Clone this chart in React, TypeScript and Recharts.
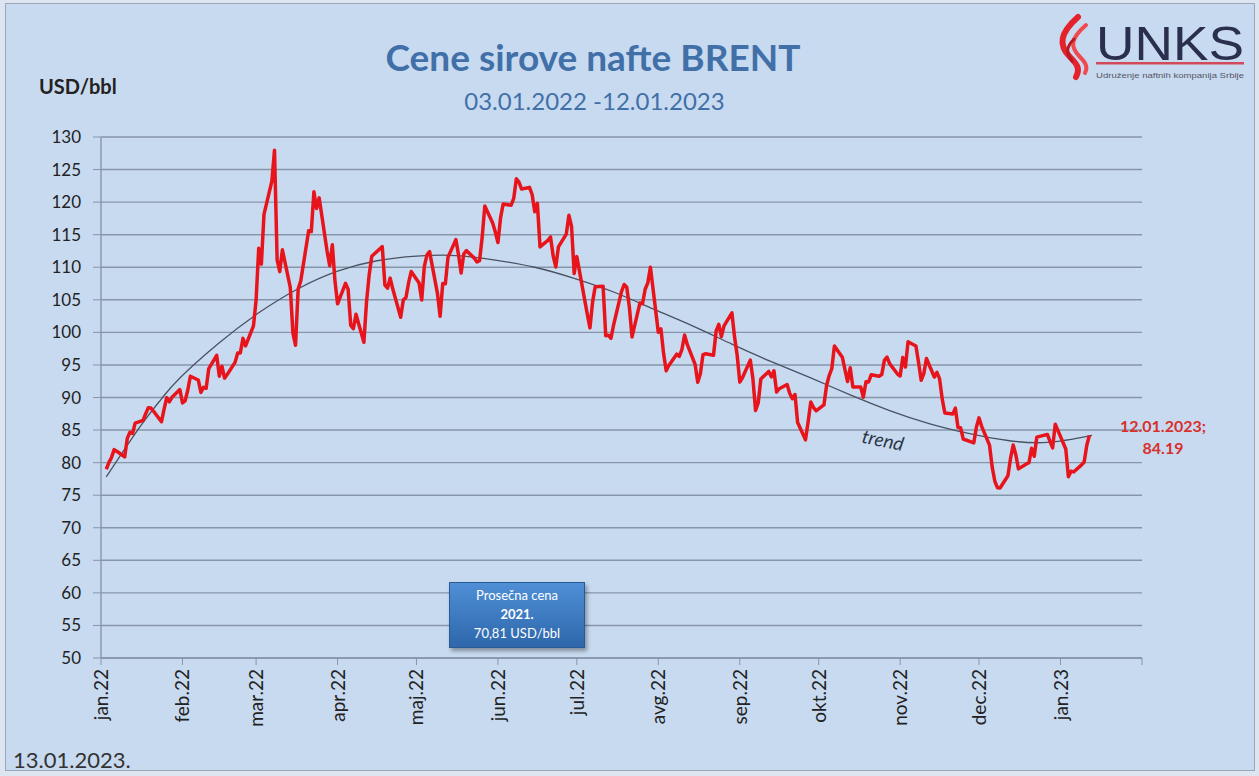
import React from "react"
import { LineChart, Line, XAxis, YAxis, CartesianGrid } from "recharts"

// first day of each month, counted in days from 1 Jan 2022
const MONTH_START = [0, 31, 59, 90, 120, 151, 181, 212, 243, 273, 304, 334, 365, 396]
const MONTH_LABELS = ["jan.22", "feb.22", "mar.22", "apr.22", "maj.22", "jun.22", "jul.22", "avg.22", "sep.22", "okt.22", "nov.22", "dec.22", "jan.23", ""]
const Y_TICKS = [50, 55, 60, 65, 70, 75, 80, 85, 90, 95, 100, 105, 110, 115, 120, 125, 130]

// [day of month, USD/bbl]
const JAN22 = [[3, 78.98], [4, 80.0], [5, 80.8], [6, 81.99], [7, 81.75], [10, 80.87], [11, 83.72], [12, 84.67], [13, 84.47], [14, 86.06], [17, 86.48], [18, 87.51], [19, 88.44], [20, 88.38], [21, 87.89], [24, 86.27], [25, 88.2], [26, 89.96], [27, 89.34], [28, 90.03], [31, 91.21]]
const FEB22 = [[1, 89.16], [2, 89.47], [3, 91.11], [4, 93.27], [7, 92.69], [8, 90.78], [9, 91.55], [10, 91.41], [11, 94.44], [14, 96.48], [15, 93.28], [16, 94.81], [17, 92.97], [18, 93.54], [21, 95.39], [22, 96.84], [23, 96.84], [24, 99.08], [25, 97.93], [28, 100.99]]
const MAR22 = [[1, 104.97], [2, 112.93], [3, 110.46], [4, 118.11], [7, 123.21], [8, 127.98], [9, 111.14], [10, 109.33], [11, 112.67], [14, 106.9], [15, 99.91], [16, 98.02], [17, 106.64], [18, 107.93], [21, 115.62], [22, 115.48], [23, 121.6], [24, 119.03], [25, 120.65], [28, 112.48], [29, 110.23], [30, 113.45], [31, 107.91]]
const APR22 = [[1, 104.39], [4, 107.53], [5, 106.64], [6, 101.07], [7, 100.58], [8, 102.78], [11, 98.48], [12, 104.64], [13, 108.78], [14, 111.7], [18, 113.16], [19, 107.25], [20, 106.8], [21, 108.33], [22, 106.65], [25, 102.32], [26, 104.99], [27, 105.32], [28, 107.59], [29, 109.34]]
const MAY22 = [[2, 107.58], [3, 104.97], [4, 110.14], [5, 111.9], [6, 112.39], [9, 105.94], [10, 102.46], [11, 107.51], [12, 107.45], [13, 111.55], [16, 114.24], [17, 111.93], [18, 109.11], [19, 112.04], [20, 112.55], [23, 111.4], [24, 110.8], [25, 111.0], [26, 114.6], [27, 119.4], [30, 116.8], [31, 115.4]]
const JUN22 = [[1, 113.8], [2, 117.61], [3, 119.72], [6, 119.51], [7, 120.57], [8, 123.58], [9, 123.07], [10, 122.01], [13, 122.27], [14, 121.17], [15, 118.51], [16, 119.81], [17, 113.12], [20, 114.13], [21, 114.65], [22, 111.74], [23, 110.05], [24, 113.12], [27, 115.09], [28, 117.98], [29, 116.26], [30, 109.03]]
const JUL22 = [[1, 111.63], [5, 102.77], [6, 100.69], [7, 104.65], [8, 107.02], [11, 107.1], [12, 99.49], [13, 99.57], [14, 99.1], [15, 101.16], [18, 106.27], [19, 107.35], [20, 106.92], [21, 103.86], [22, 99.3], [25, 104.5], [26, 104.4], [27, 106.62], [28, 107.6], [29, 110.01]]
const AUG22 = [[1, 100.03], [2, 100.54], [3, 96.78], [4, 94.12], [5, 94.92], [8, 96.65], [9, 96.31], [10, 97.4], [11, 99.6], [12, 98.15], [15, 95.1], [16, 92.34], [17, 93.65], [18, 96.59], [19, 96.72], [22, 96.48], [23, 100.22], [24, 101.22], [25, 99.34], [26, 100.99], [29, 103.0], [30, 99.31], [31, 96.49]]
const SEP22 = [[1, 92.36], [2, 93.02], [5, 95.74], [6, 92.83], [7, 88.0], [8, 89.15], [9, 92.84], [12, 94.0], [13, 93.17], [14, 94.1], [15, 90.84], [16, 91.35], [19, 92.0], [20, 90.62], [21, 89.83], [22, 90.46], [23, 86.15], [26, 83.5], [27, 86.27], [28, 89.32], [29, 88.49], [30, 87.96]]
const OCT22 = [[3, 88.86], [4, 91.8], [5, 93.37], [6, 94.42], [7, 97.92], [10, 96.19], [11, 94.29], [12, 92.45], [13, 94.57], [14, 91.63], [17, 91.62], [18, 90.03], [19, 92.41], [20, 92.38], [21, 93.5], [24, 93.26], [25, 93.52], [26, 95.69], [27, 96.2], [28, 95.2], [31, 93.6]]
const NOV22 = [[1, 93.3], [2, 96.16], [3, 94.67], [4, 98.57], [7, 97.92], [8, 95.36], [9, 92.65], [10, 93.67], [11, 95.99], [14, 93.14], [15, 93.86], [16, 92.86], [17, 89.78], [18, 87.62], [21, 87.45], [22, 88.36], [23, 85.41], [24, 85.34], [25, 83.63], [28, 83.19], [29, 83.03], [30, 85.43]]
const DEC22 = [[1, 86.88], [2, 85.57], [5, 82.68], [6, 79.35], [7, 77.17], [8, 76.15], [9, 76.1], [12, 77.99], [13, 80.68], [14, 82.7], [15, 81.21], [16, 79.04], [19, 79.8], [20, 79.99], [21, 82.2], [22, 80.98], [23, 83.92], [27, 84.33], [28, 83.26], [29, 82.26], [30, 85.91]]
const JAN23 = [[3, 82.1], [4, 77.84], [5, 78.69], [6, 78.57], [9, 79.65], [10, 80.1], [11, 82.67], [12, 84.19]]

const MONTHS = [JAN22, FEB22, MAR22, APR22, MAY22, JUN22, JUL22, AUG22, SEP22, OCT22, NOV22, DEC22, JAN23]

// polynomial trend
const TREND_DAYS = [2, 15, 23, 30, 45, 60, 75, 90, 105, 120, 135, 150, 165, 180, 195, 210, 225, 240, 255, 270, 285, 300, 315, 330, 345, 360, 377]
const TREND_VALUES = [77.8, 85.6, 89.8, 93.0, 98.4, 103.0, 106.7, 109.4, 111.0, 111.7, 111.8, 111.1, 110.0, 108.3, 106.2, 103.6, 101.0, 98.2, 95.5, 93.0, 90.4, 88.0, 86.0, 84.5, 83.4, 83.1, 84.2]

const brent = MONTHS.flatMap((m, i) => m.map(([d, v]) => ({ day: MONTH_START[i] + d - 1, price: v })))
const trend = TREND_DAYS.map((d, i) => ({ day: d, value: TREND_VALUES[i] }))

const FONT = "Lato, 'Open Sans', sans-serif"
const GRID = "#8795a9"

const MonthTick = ({ x, y, payload }: any) => {
  const i = MONTH_START.indexOf(payload.value)
  const label = i >= 0 ? MONTH_LABELS[i] : ""
  return (
    <text transform={`translate(${x + 7},${y + 2}) rotate(-90)`} textAnchor="end" fontSize={19} fill="#222" fontFamily={FONT}>
      {label}
    </text>
  )
}

export default function App() {
  return (
    <div style={{ position: "absolute", left: 0, top: 0, width: 1259, height: 776, background: "#dce5f0", fontFamily: FONT }}>
      <div style={{ position: "absolute", left: 5, top: 3, width: 1250, height: 768, background: "#c8daf0", border: "1px solid #9aa7b8", boxSizing: "border-box" }} />

      <LineChart width={1259} height={776} data={brent} margin={{ top: 137, right: 117, bottom: 58, left: 41 }} style={{ position: "absolute", left: 0, top: 0 }}>
        <CartesianGrid vertical={false} stroke={GRID} strokeWidth={1.4} />
        <XAxis
          dataKey="day" type="number" domain={[0, 396]} ticks={MONTH_START} interval={0}
          height={60} tick={<MonthTick />} tickSize={7} tickLine={{ stroke: GRID }} axisLine={{ stroke: GRID, strokeWidth: 1.4 }}
        />
        <YAxis
          domain={[50, 130]} ticks={Y_TICKS} interval={0} width={60} tickSize={8} tickMargin={12}
          tick={{ fill: "#222", fontSize: 17, fontFamily: FONT }} tickLine={{ stroke: GRID }} axisLine={{ stroke: GRID, strokeWidth: 1.4 }}
        />
        <Line data={trend} dataKey="value" type="natural" stroke="#4a5262" strokeWidth={1.3} dot={false} isAnimationActive={false} />
        <Line dataKey="price" type="linear" stroke="#e8141c" strokeWidth={3.5} dot={false} strokeLinejoin="round" isAnimationActive={false} />
      </LineChart>

      <div style={{ position: "absolute", left: 0, width: 1186, top: 34, textAlign: "center", fontSize: 37, fontWeight: 700, color: "#4170a8" }}>Cene sirove nafte BRENT</div>
      <div style={{ position: "absolute", left: 0, width: 1189, top: 86, textAlign: "center", fontSize: 24, color: "#4170a8" }}>03.01.2022 -12.01.2023</div>
      <div style={{ position: "absolute", left: 39, top: 74, fontSize: 20, fontWeight: 700, color: "#222" }}>USD/bbl</div>
      <div style={{ position: "absolute", left: 13, top: 746, fontSize: 22, color: "#333" }}>13.01.2023.</div>

      <div style={{ position: "absolute", left: 862, top: 428, fontSize: 19, fontStyle: "italic", color: "#2b3547", transform: "rotate(12deg)" }}>trend</div>

      <div style={{ position: "absolute", left: 1110, width: 106, top: 415, textAlign: "center", fontSize: 16, fontWeight: 700, color: "#d9302c", lineHeight: "22px" }}>
        12.01.2023;<br />84.19
      </div>

      <div style={{
        position: "absolute", left: 449, top: 582, width: 136, height: 66, boxSizing: "border-box",
        background: "linear-gradient(#4f8fd6, #2e67ab)", border: "1px solid #2a5a95", boxShadow: "2px 3px 4px rgba(0,0,0,0.35)",
        color: "#fff", textAlign: "center", fontSize: 13, lineHeight: "19px", paddingTop: 3
      }}>
        Prosečna cena<br /><b>2021.</b><br />70,81 USD/bbl
      </div>

      <svg width={200} height={90} style={{ position: "absolute", left: 1050, top: 0 }}>
        <path d="M28 17 C10 33 8 45 20 57 C28 65 30 69 26 77" stroke="#e3222c" strokeWidth={6} fill="none" strokeLinecap="round" />
        <path d="M36 25 C20 39 20 47 30 57 C36 63 38 67 35 73" stroke="#f04a50" strokeWidth={4} fill="none" strokeLinecap="round" />
        <path d="M24 39 C16 47 16 53 22 61" stroke="#b81820" strokeWidth={3} fill="none" strokeLinecap="round" />
        <text x={46} y={60} fontSize={48} fill="#2b2f4e" fontFamily="'Liberation Sans', Arial, sans-serif" textLength={148} lengthAdjust="spacingAndGlyphs">UNKS</text>
        <rect x={46} y={62} width={148} height={2.5} fill="#d24a5a" />
        <text x={46} y={78} fontSize={7} fill="#556" fontFamily="'Liberation Sans', Arial, sans-serif" textLength={148} lengthAdjust="spacingAndGlyphs">Udruženje naftnih kompanija Srbije</text>
      </svg>
    </div>
  )
}
